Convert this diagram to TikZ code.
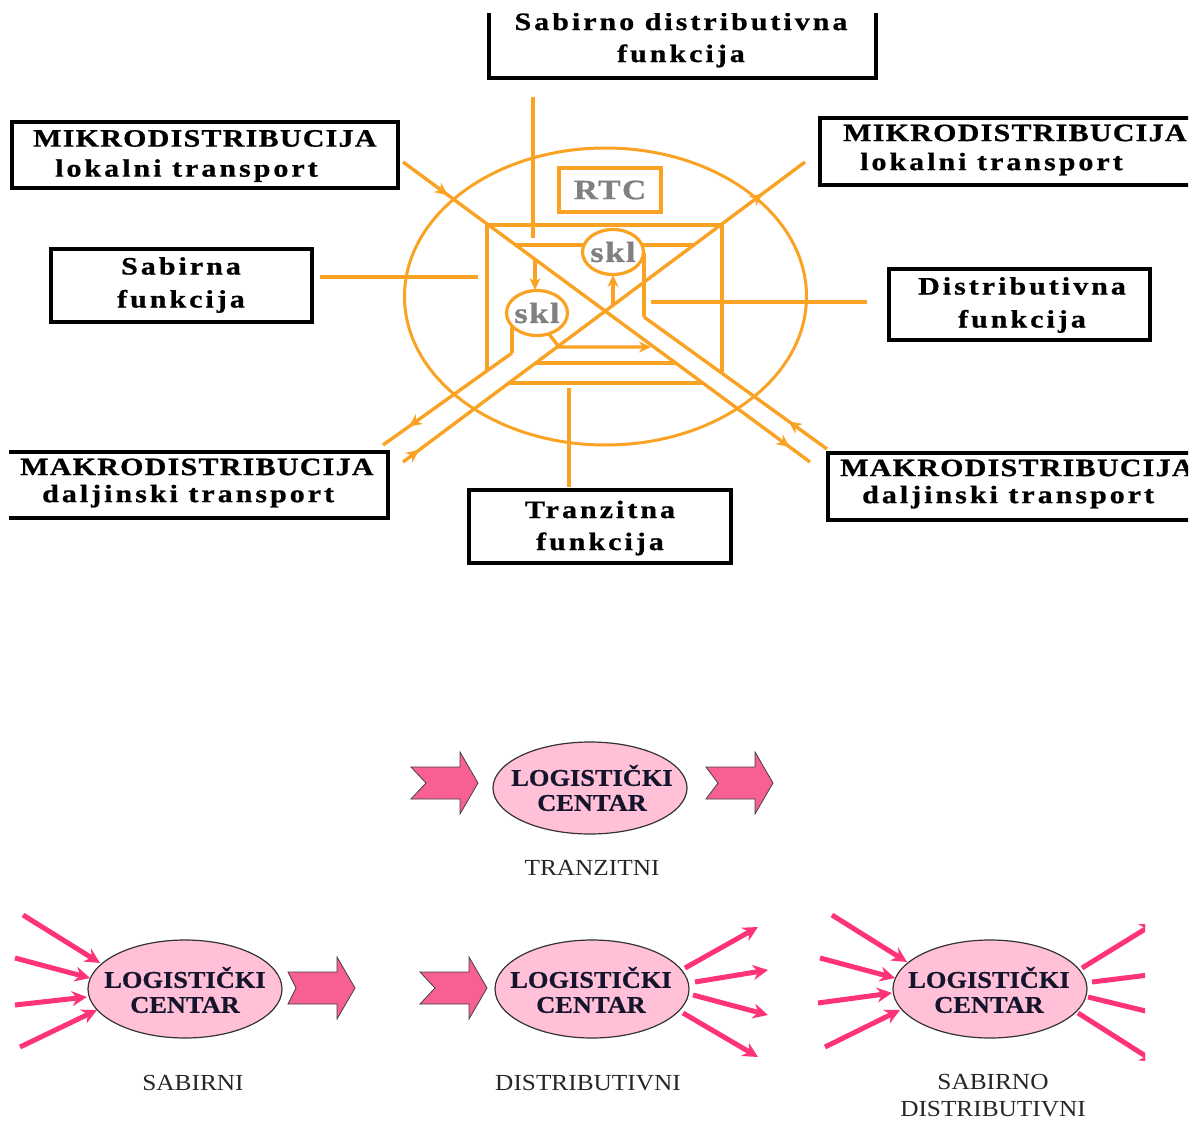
\documentclass[tikz,border=0pt]{standalone}
\usepackage{fontspec}
\setmainfont{Liberation Serif}
\newfontfamily\boxfont[FakeStretch=1.2,LetterSpace=5,FakeBold=0.8]{Liberation Serif}
\newfontfamily\boxfontw[FakeStretch=1.2,LetterSpace=12,FakeBold=0.8]{Liberation Serif}
\newfontfamily\lcfont[FakeStretch=1.1,FakeBold=0.6]{Liberation Serif}
\newfontfamily\lblfont[FakeStretch=1.1]{Liberation Serif}
\usetikzlibrary{arrows.meta,decorations.markings,shapes.geometric}
\definecolor{orng}{RGB}{250,162,35}
\definecolor{lcpink}{RGB}{255,192,216}
\definecolor{blockpink}{RGB}{248,96,146}
\definecolor{hotpink}{RGB}{255,51,119}
\definecolor{navytext}{RGB}{20,20,45}
\definecolor{txtgray}{RGB}{128,128,128}
\newcommand{\wl}[1]{{\boxfontw\bfseries #1}}
\tikzset{
  oline/.style={draw=orng, line width=3.4pt},
  oarr/.style={oline, -{Stealth[length=12pt,width=11pt]}},
  marrow/.style={postaction={decorate, decoration={markings, mark=at position #1 with {\arrow{Stealth[length=13pt,width=12pt]}}}}},
  rmarrow/.style={postaction={decorate, decoration={markings, mark=at position #1 with {\arrowreversed{Stealth[length=13pt,width=12pt]}}}}},
  bbox/.style={draw=black, line width=3.4pt, rectangle, inner sep=0pt},
  btxt/.style={font=\boxfont\bfseries\fontsize{25}{32}\selectfont, inner sep=0pt},
  sklnode/.style={ellipse, draw=orng, line width=3.2pt, fill=white, minimum width=61pt, minimum height=45pt, inner sep=0pt},
  skltxt/.style={text=txtgray, font=\boxfont\bfseries\fontsize{29}{29}\selectfont, inner sep=0pt},
  lc/.style={ellipse, draw=black!80, line width=1.2pt, fill=lcpink, minimum width=194pt, minimum height=96pt, inner sep=0pt},
  lctxt/.style={align=center, text=navytext, inner sep=0pt, font=\lcfont\bfseries\fontsize{24}{25}\selectfont},
  thinarr/.style={draw=hotpink, line width=5pt, -{Stealth[length=15pt,width=15pt]}},
  lbl/.style={font=\lblfont\fontsize{23}{27}\selectfont, text=black!85, inner sep=0pt},
  pics/blockarr/.style={code={\draw[fill=blockpink, draw=black!75, line width=0.8pt] (0,0) -- (-18,-31) -- (-18,-16) -- (-67,-16) -- (-67+#1,0) -- (-67,16) -- (-18,16) -- (-18,31) -- cycle;}}
}
\begin{document}
\begin{tikzpicture}[x=1pt,y=-1pt]
\useasboundingbox (0,0) rectangle (1197,1122);
% ---------------- top diagram ----------------
\draw[oline, line width=3pt] (605.5,296.5) ellipse [x radius=201pt, y radius=148.5pt];
\node[draw=orng, line width=3.2pt, minimum width=102pt, minimum height=44pt, inner sep=0pt, text=txtgray, font=\boxfont\bfseries\fontsize{28}{28}\selectfont] (rtc) at (610,190) {RTC};
% coordinates
\coordinate (L1a) at (403,162); \coordinate (L1b) at (810,462);
\coordinate (D2a) at (403,462); \coordinate (D2b) at (805,162);
\coordinate (L2a) at (644,317); \coordinate (L2b) at (827,449);
\coordinate (LOa) at (512,353); \coordinate (LOb) at (383,445);
\coordinate (sqA) at (487,371); \coordinate (sqB) at (487,225);
\coordinate (sqC) at (722,225); \coordinate (sqD) at (722,372);
\coordinate (h1a) at (516,245); \coordinate (h1b) at (694,245);
\coordinate (h2a) at (536,363); \coordinate (h2b) at (676,363);
\coordinate (h3a) at (509,383); \coordinate (h3b) at (703,383);
% square and horizontals
\draw[oline] (sqA) -- (sqB) -- (sqC) -- (sqD);
\draw[oline] (h1a) -- (h1b);
\draw[oline] (h2a) -- (h2b);
\draw[oline] (h3a) -- (h3b);
% diagonals
\draw[oline, marrow=0.11, marrow=0.95] (L1a) -- (L1b);
\draw[oline, marrow=0.04, marrow=0.895] (D2a) -- (D2b);
\draw[oline, rmarrow=0.79] (L2a) -- (L2b);
\draw[oline, marrow=0.80] (LOa) -- (LOb);
% skl nodes
\node[sklnode] (skl1) at (537,313) {};
\node[skltxt] (skl1t) at (537,313) {skl};
\node[sklnode] (skl2) at (613,252) {};
\node[skltxt] (skl2t) at (613,252) {skl};
\coordinate (v1a) at (512,327);
\coordinate (v2a) at (644,253);
\draw[oline] (v1a) -- (LOa);
\draw[oline] (v2a) -- (L2a);
\coordinate (a1a) at (535,259); \coordinate (a1b) at (535,290);
\draw[oarr] (a1a) -- (a1b);
\coordinate (a2a) at (613,305); \coordinate (a2b) at (613,275);
\draw[oarr] (a2a) -- (a2b);
\coordinate (a3a) at (549,334); \coordinate (a3k) at (559,347); \coordinate (a3b) at (651,347);
\draw[oarr] (a3a) -- (a3k) -- (a3b);
% boxes
\begin{scope}
\clip (9,13) rectangle (1188,600);
\node[bbox, minimum width=387pt, minimum height=98pt] (bTop) at (682.5,29) {};
\node[btxt, align=center] (tTop) at (681,40) {\wl{Sabirno distributivna}\\\wl{funkcija}};
\node[bbox, minimum width=386pt, minimum height=66pt] (bMiL) at (205,155) {};
\node[btxt, align=left, anchor=west] (tMiL) at (33,156) {MIKRODISTRIBUCIJA\\[-2pt]\hspace*{22pt}\wl{lokalni transport}};
\node[bbox, minimum width=261pt, minimum height=73pt] (bSab) at (181.5,285.5) {};
\node[btxt, align=center] (tSab) at (181,285) {\wl{Sabirna}\\[1pt]\wl{funkcija}};
\node[bbox, minimum width=408pt, minimum height=66pt] (bMaL) at (184,485) {};
\node[btxt, align=left, anchor=west] (tMaL) at (20,483) {MAKRODISTRIBUCIJA\\[-5pt]\hspace*{22pt}\wl{daljinski transport}};
\node[bbox, minimum width=262pt, minimum height=73pt] (bTr) at (600,526.5) {};
\node[btxt, align=center] (tTr) at (600,528) {\wl{Tranzitna}\\\wl{funkcija}};
\node[bbox, minimum width=410pt, minimum height=67pt] (bMiR) at (1025,151.5) {};
\node[btxt, align=left, anchor=west] (tMiR) at (843,150) {MIKRODISTRIBUCIJA\\[-3pt]\hspace*{17pt}\wl{lokalni transport}};
\node[bbox, minimum width=261pt, minimum height=71pt] (bDi) at (1019.5,304.5) {};
\node[btxt, align=center] (tDi) at (1022,305) {\wl{Distributivna}\\[1pt]\wl{funkcija}};
\node[bbox, minimum width=402pt, minimum height=67pt] (bMaR) at (1029,486.5) {};
\node[btxt, align=left, anchor=west] (tMaR) at (840,484) {MAKRODISTRIBUCIJA\\[-5pt]\hspace*{22pt}\wl{daljinski transport}};
\end{scope}
% connectors from boxes
\coordinate (c1a) at (533,97); \coordinate (c1b) at (533,238);
\draw[oline] (c1a) -- (c1b);
\coordinate (c2a) at (320,277); \coordinate (c2b) at (478,277);
\draw[oline] (c2a) -- (c2b);
\coordinate (c3a) at (651,302); \coordinate (c3b) at (867,302);
\draw[oline] (c3a) -- (c3b);
\coordinate (c4a) at (569,388); \coordinate (c4b) at (569,487);
\draw[oline] (c4a) -- (c4b);
% ---------------- bottom diagrams ----------------
% tranzitni
\node[lc, minimum height=92pt] (lcT) at (590,788) {};
\node[lctxt] (lcTt) at (592,788) {LOGISTIČKI\\CENTAR};
\pic (baT1) at (478,783) {blockarr=15};
\pic (baT2) at (773,783) {blockarr=12};
\node[lbl] (lT) at (592,868) {TRANZITNI};
% sabirni
\node[lc, minimum height=98pt] (lcS) at (185,989) {};
\node[lctxt] (lcSt) at (185,990) {LOGISTIČKI\\CENTAR};
\pic (baS) at (355,988) {blockarr=8};
\foreach \i/\a/\b/\c/\d in {1/23/915/100/963, 2/15/958/90/978, 3/15/1005/87/997, 4/20/1047/97/1010}{
  \coordinate (sa\i) at (\a,\b); \coordinate (sb\i) at (\c,\d);
  \draw[thinarr] (sa\i) -- (sb\i);
}
\node[lbl] (lS) at (193,1083) {SABIRNI};
% distributivni
\node[lc, minimum height=98pt] (lcD) at (592,989) {};
\node[lctxt] (lcDt) at (591,990) {LOGISTIČKI\\CENTAR};
\pic (baD) at (487,988) {blockarr=15};
\foreach \i/\a/\b/\c/\d in {1/685/968/758/927, 2/695/982/768/970, 3/693/995/768/1015, 4/683/1013/758/1057}{
  \coordinate (da\i) at (\a,\b); \coordinate (db\i) at (\c,\d);
  \draw[thinarr] (da\i) -- (db\i);
}
\node[lbl] (lD) at (588,1083) {DISTRIBUTIVNI};
% sabirno distributivni
\node[lc, minimum height=98pt] (lcSD) at (990,989) {};
\node[lctxt] (lcSDt) at (989,990) {LOGISTIČKI\\CENTAR};
\foreach \i/\a/\b/\c/\d in {1/832/915/907/962, 2/820/958/895/978, 3/818/1003/892/993, 4/825/1047/900/1010}{
  \coordinate (ia\i) at (\a,\b); \coordinate (ib\i) at (\c,\d);
  \draw[thinarr] (ia\i) -- (ib\i);
}
\begin{scope}
\clip (1000,900) rectangle (1145,1070);
\foreach \i/\a/\b/\c/\d in {1/1082/968/1155/923, 2/1092/982/1165/973, 3/1088/997/1162/1015, 4/1078/1013/1155/1062}{
  \coordinate (oa\i) at (\a,\b); \coordinate (ob\i) at (\c,\d);
  \draw[thinarr] (oa\i) -- (ob\i);
}
\end{scope}
\node[lbl, align=center] (lSD) at (993,1096) {SABIRNO\\DISTRIBUTIVNI};
\end{tikzpicture}
\end{document}
